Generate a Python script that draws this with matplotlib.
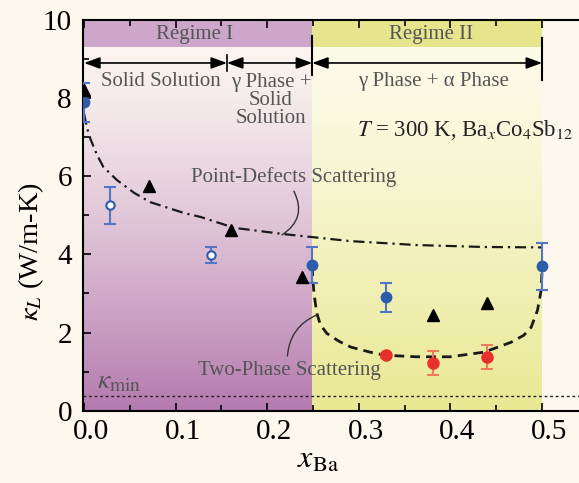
import numpy as np
import matplotlib
matplotlib.use("Agg")
import matplotlib.pyplot as plt
import matplotlib.transforms as mtransforms
from matplotlib.colors import to_rgb

plt.rcParams['font.family'] = ['Liberation Serif', 'DejaVu Serif']
plt.rcParams['mathtext.fontset'] = 'stix'

# ---- data ----
tri_x = [0.0, 0.071, 0.160, 0.238, 0.381, 0.440]
tri_y = [8.21, 5.74, 4.62, 3.42, 2.45, 2.75]

blue_x = [0.0, 0.249, 0.330, 0.500]
blue_y = [7.90, 3.72, 2.90, 3.70]
blue_err = [0.50, 0.46, 0.37, 0.60]

open_x = [0.028, 0.139]
open_y = [5.26, 3.98]
open_err = [0.47, 0.20]

red_x = [0.330, 0.381, 0.440]
red_y = [1.42, 1.22, 1.38]
red_err = [0.06, 0.31, 0.30]

pd_x = [0.0, 0.003, 0.007, 0.014, 0.021, 0.036, 0.055, 0.072, 0.109, 0.127, 0.164, 0.218,
        0.291, 0.363, 0.437, 0.499]
pd_y = [7.60, 7.25, 6.95, 6.55, 6.24, 5.90, 5.57, 5.34, 5.06, 4.96, 4.68, 4.52,
        4.34, 4.24, 4.19, 4.18]

tp_x = [0.249, 0.250, 0.251, 0.254, 0.258, 0.265, 0.278, 0.291, 0.312, 0.328, 0.363, 0.400,
        0.437, 0.466, 0.480, 0.488, 0.495, 0.499, 0.500]
tp_y = [3.70, 3.30, 3.00, 2.50, 2.20, 1.98, 1.78, 1.63, 1.50, 1.42, 1.38, 1.38,
        1.50, 1.75, 1.93, 2.13, 2.57, 3.08, 3.60]

kmin = 0.38
x_ticks = [0.0, 0.1, 0.2, 0.3, 0.4, 0.5]
x_ticklabels = ['0.0', '0.1', '0.2', '0.3', '0.4', '0.5']
y_ticks = [0, 2, 4, 6, 8, 10]
regime_bounds = [0.0, 0.249, 0.500]
phase_div = 0.156

# ---- figure ----
BG = '#FDF8EE'
fig = plt.figure(figsize=(5.79, 4.83), dpi=100, facecolor=BG)
ax = fig.add_axes([83/579, 72.3/483, 500/579, 390.7/483])
ax.set_facecolor(BG)
xmin, xmax = -0.0012, 0.5447
ax.set_xlim(xmin, xmax)
ax.set_ylim(0, 10)

band_lo = 9.31

def vgrad(c_top, c_bot, n=256, gamma=1.0):
    t = np.linspace(0, 1, n) ** gamma
    a = np.array(to_rgb(c_top)); b = np.array(to_rgb(c_bot))
    img = a[None, :] * (1 - t[:, None]) + b[None, :] * t[:, None]
    return img[:, None, :]

ax.imshow(vgrad('#FBF4F0', '#B47AAF', gamma=1.3), extent=[xmin, regime_bounds[1], 0, band_lo],
          aspect='auto', zorder=0, interpolation='bilinear')
ax.imshow(vgrad('#FDFBEA', '#E9E893', gamma=1.2), extent=[regime_bounds[1], regime_bounds[2], 0, band_lo],
          aspect='auto', zorder=0, interpolation='bilinear')
ax.axvspan(xmin, regime_bounds[1], ymin=band_lo/10, ymax=1, color='#CCA7C9', lw=0, zorder=0.5)
ax.axvspan(regime_bounds[1], regime_bounds[2], ymin=band_lo/10, ymax=1, color='#E6E48C', lw=0, zorder=0.5)
ax.set_xlim(xmin, xmax)
ax.set_ylim(0, 10)

txtc = '#555555'
ax.text(0.121, 9.64, 'Regime I', ha='center', va='center', fontsize=15, color=txtc)
ax.text(0.379, 9.64, 'Regime II', ha='center', va='center', fontsize=15, color=txtc)

# arrows
ay = 8.90
for a0, a1 in [(0.0, phase_div), (phase_div, regime_bounds[1]), (regime_bounds[1], regime_bounds[2])]:
    ax.annotate('', xy=(a1, ay), xytext=(a0, ay),
                arrowprops=dict(arrowstyle='<|-|>,head_length=0.6,head_width=0.22', color='black',
                                lw=1.2, mutation_scale=16, shrinkA=0, shrinkB=0))
ax.plot([phase_div, phase_div], [8.69, 9.10], color='black', lw=1.2)
ax.plot([regime_bounds[1]]*2, [8.59, 9.59], color='black', lw=1.5)
ax.plot([regime_bounds[2]]*2, [8.46, 9.54], color='black', lw=1.5)

ax.text(0.084, 8.43, 'Solid Solution', ha='center', va='center', fontsize=15, color=txtc)
ax.text(0.204, 7.93, 'γ Phase +\nSolid\nSolution', ha='center', va='center', fontsize=15,
        color=txtc, linespacing=0.92)
ax.text(0.382, 8.43, 'γ Phase + α Phase', ha='center', va='center', fontsize=15, color=txtc)
ax.text(0.298, 7.18, r'$T$ = 300 K, Ba$_x$Co$_4$Sb$_{12}$', ha='left', va='center', fontsize=16.4,
        color='#222222')

# curves
ax.plot(pd_x, pd_y, color='#1a1a1a', lw=1.6, dashes=(5, 2.2, 1, 2.2), zorder=3)
ax.plot(tp_x, tp_y, color='#1a1a1a', lw=2.0, dashes=(3.5, 2.2), zorder=3)
ax.axhline(kmin, color='#222222', lw=1.0, dashes=(2, 2), zorder=3)

ax.text(0.229, 5.98, 'Point-Defects Scattering', ha='center', va='center', fontsize=15, color=txtc)
ax.annotate('', xy=(0.216, 4.50), xytext=(0.229, 5.62),
            arrowprops=dict(arrowstyle='-', color='#333333', lw=1.0,
                            connectionstyle='arc3,rad=-0.45', shrinkA=0, shrinkB=0))
ax.text(0.224, 1.04, 'Two-Phase Scattering', ha='center', va='center', fontsize=15, color=txtc)
ax.annotate('', xy=(0.254, 2.45), xytext=(0.222, 1.40),
            arrowprops=dict(arrowstyle='-', color='#333333', lw=1.0,
                            connectionstyle='arc3,rad=-0.3', shrinkA=0, shrinkB=0))
ax.text(0.014, 0.74, r'$\kappa_{\mathrm{min}}$', ha='left', va='center', fontsize=20, color=txtc)

# data
ax.errorbar(blue_x, blue_y, yerr=blue_err, fmt='o', color='#2D5CAA', ecolor='#5275C4',
            ms=7.5, elinewidth=1.5, capsize=4, capthick=1.5, zorder=5)
ax.errorbar(open_x, open_y, yerr=open_err, fmt='o', mfc='white', mec='#2D5CAA', mew=1.5,
            ecolor='#5275C4', ms=6, elinewidth=1.5, capsize=4, capthick=1.5, zorder=5)
ax.errorbar(red_x, red_y, yerr=red_err, fmt='o', color='#E8302A', ecolor='#F07A5A',
            ms=8, elinewidth=1.5, capsize=4, capthick=1.5, zorder=5)
ax.plot(tri_x, tri_y, '^', color='black', ms=9, zorder=6)

# axes styling
ax.set_xticks(x_ticks)
ax.set_xticklabels(x_ticklabels)
ax.set_xticks(np.arange(0.05, 0.55, 0.1), minor=True)
ax.set_yticks(y_ticks)
ax.set_yticks([1, 3, 5, 7, 9], minor=True)
ax.tick_params(which='both', direction='in', top=True, right=False, labelsize=21, width=1.2)
ax.tick_params(which='major', length=6)
ax.tick_params(axis='x', which='major', pad=6)
ax.tick_params(axis='y', which='major', pad=8)
ax.tick_params(which='minor', length=4)
for s in ['left', 'bottom', 'top']:
    ax.spines[s].set_linewidth(1.5)
ax.spines['right'].set_visible(False)

shift = mtransforms.ScaledTranslation(7/100, 0, fig.dpi_scale_trans)
for lbl in ax.get_xticklabels():
    lbl.set_transform(lbl.get_transform() + shift)

fig.text(31/579, 1 - 252/483, r'$\kappa_L$ (W/m-K)', rotation=90, ha='center', va='center', fontsize=20.5)
fig.text(318/579, 1 - 460/483, r'$x_{\mathrm{Ba}}$', ha='center', va='center', fontsize=23)

fig.savefig('out.png', dpi=100, facecolor=BG)
